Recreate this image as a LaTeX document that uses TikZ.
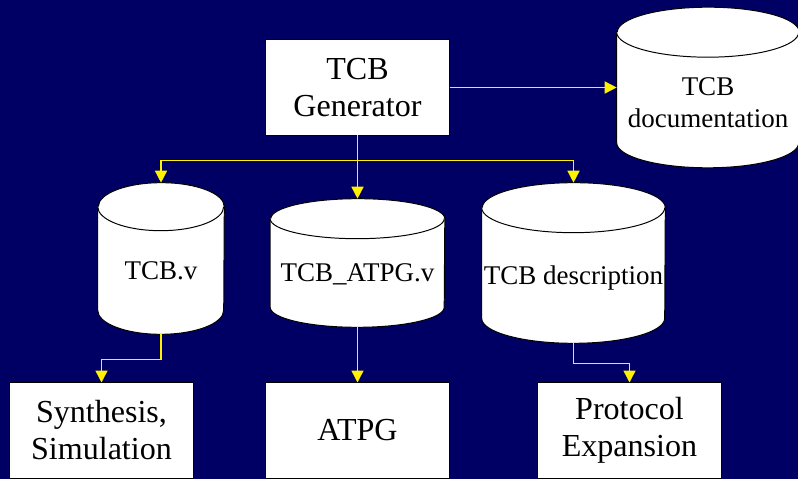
\documentclass[tikz,border=0pt]{standalone}
\usepackage{fontspec}
\setmainfont{Liberation Serif}
\newfontfamily\tcbfont{Liberation Serif}
\usetikzlibrary{arrows.meta,calc}

\definecolor{navyedge}{RGB}{0,0,100}
\definecolor{navymid}{RGB}{0,0,158}

% white drum round an empty node: #1 node, #2 x radius, #3 y radius
\newcommand\drum[3]{%
  \filldraw[drum line] ($(#1.north west)+(0,-#3)$) -- ($(#1.south west)+(0,#3)$)
    arc[start angle=180,end angle=360,x radius=#2,y radius=#3]
    -- ($(#1.north east)+(0,-#3)$)
    arc[start angle=0,end angle=180,x radius=#2,y radius=#3] -- cycle;
  \draw[drum line] ($(#1.north west)+(0,-#3)$)
    arc[start angle=180,end angle=360,x radius=#2,y radius=#3];
}

\tikzset{
  block/.style={draw=black,fill=white,line width=0.7pt,minimum width=4.575cm,
    minimum height=2.375cm,inner sep=0pt,align=center,
    font=\tcbfont\fontsize{22.8}{26.3}\selectfont},
  drumbox/.style={inner sep=0pt},
  drum line/.style={draw=black,fill=white,line width=0.7pt},
  drum text/.style={align=center,font=\tcbfont\fontsize{19.2}{22.8}\selectfont},
  link/.style={draw=yellow,line width=1.1pt,-{Triangle[width=8.5pt,length=8.5pt]}}
}

\begin{document}
\begin{tikzpicture}[x=0.025cm,y=0.025cm]
      \shade[top color=navyedge,middle color=navymid,bottom color=navyedge]
        (0,0) rectangle (798,479);
      \useasboundingbox (0,0) rectangle (798,479);

      % boxes
      \node [block] (gen) at (357.5,391.5) {TCB\\Generator};
      \node [block] (synth) at (101.5,48.5) {Synthesis,\\Simulation};
      \node [block] (atpg) at (357.5,48.5) {ATPG};
      \node [block] (prot) at (629.5,48.5) {Protocol\\Expansion};

      % drums
      \node [drumbox,minimum width=4.55cm,minimum height=4cm] (doc) at (708,391.5) {};
      \node [drumbox,minimum width=3.15cm,minimum height=3.775cm] (tcbv) at (161,220.5) {};
      \node [drumbox,minimum width=4.35cm,minimum height=3.2cm] (atpgv) at (357.5,216) {};
      \node [drumbox,minimum width=4.575cm,minimum height=4cm] (desc) at (573.5,216) {};

      \drum{doc}{91}{25}
      \drum{tcbv}{63}{24}
      \drum{atpgv}{87}{20}
      \drum{desc}{91.5}{25}

      \node [drum text] (doc text) at (708,376) {TCB\\documentation};
      \node [drum text,anchor=base] (tcbv text) at (161,199) {TCB.v};
      \node [drum text,anchor=base] (atpgv text) at (357.5,197) {TCB\_ATPG.v};
      \node [drum text,anchor=base] (desc text) at (573.5,194) {TCB description};

      % connectors
      \coordinate (bus) at ($(gen.south)+(0,-25)$);
      \draw [link] (gen.east) -- (doc.west);
      \draw [link] (gen.south) -- (atpgv.north);
      \draw [link] (bus) -| (tcbv.north);
      \draw [link] (bus) -| (desc.north);

      \draw [link] (tcbv.south) -- ++(0,-25) -| (synth.north);
      \draw [link] (atpgv.south) -- (atpg.north);
      \draw [link] (desc.south) -- ++(0,-20) -| (prot.north);

    \end{tikzpicture}
\end{document}
